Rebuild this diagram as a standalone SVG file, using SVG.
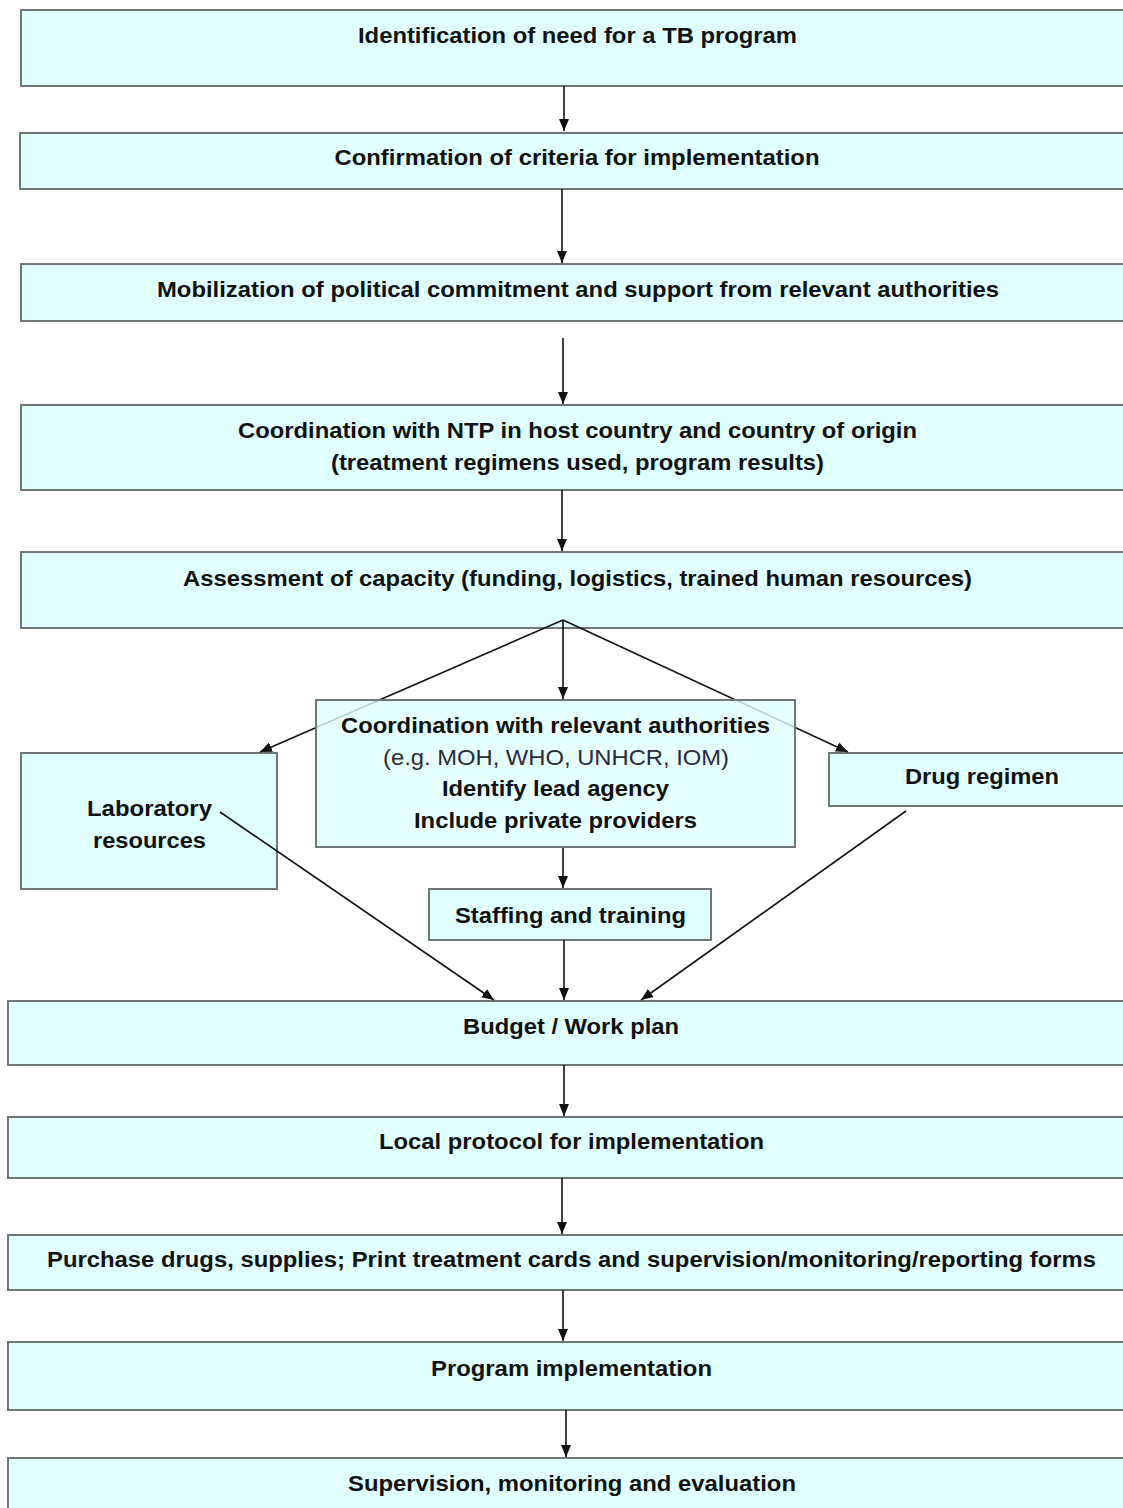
<svg xmlns="http://www.w3.org/2000/svg" width="1123" height="1508" viewBox="0 0 1123 1508">
<style>
.box{fill:#e0ffff;stroke:#6f7676;stroke-width:2}
.t{font-family:"Liberation Sans",Arial,sans-serif;font-size:22px;font-weight:bold;fill:#111;text-anchor:middle}
.r{font-weight:normal;fill:#2a2a3a}
.c{stroke:#111;stroke-width:1.6;fill:none;marker-end:url(#ah)}
</style>
<defs>
<marker id="ah" viewBox="0 0 12 12" refX="12" refY="6" markerWidth="12" markerHeight="12" markerUnits="userSpaceOnUse" orient="auto">
<path d="M0,1 L12,6 L0,11 Z" fill="#111"/>
</marker>
</defs>
<rect width="1123" height="1508" fill="#fff"/>
<g id="n1"><rect class="box" x="21" y="10" width="1110" height="76"/><text class="t" x="577.5" y="43" textLength="439" lengthAdjust="spacingAndGlyphs">Identification of need for a TB program</text></g>
<g id="n2"><rect class="box" x="20" y="133" width="1110" height="56"/><text class="t" x="577" y="165" textLength="485" lengthAdjust="spacingAndGlyphs">Confirmation of criteria for implementation</text></g>
<g id="n3"><rect class="box" x="21" y="264" width="1110" height="57"/><text class="t" x="578" y="297" textLength="842" lengthAdjust="spacingAndGlyphs">Mobilization of political commitment and support from relevant authorities</text></g>
<g id="n4"><rect class="box" x="21" y="405" width="1110" height="85"/><text class="t" x="577.5" y="438" textLength="679" lengthAdjust="spacingAndGlyphs">Coordination with NTP in host country and country of origin</text><text class="t" x="577.5" y="470" textLength="493" lengthAdjust="spacingAndGlyphs">(treatment regimens used, program results)</text></g>
<g id="n5"><rect class="box" x="21" y="552" width="1110" height="76"/><text class="t" x="577.5" y="586" textLength="789" lengthAdjust="spacingAndGlyphs">Assessment of capacity (funding, logistics, trained human resources)</text></g>
<g id="lab"><rect class="box" x="21" y="753" width="256" height="136"/><text class="t" x="149.5" y="816" textLength="125" lengthAdjust="spacingAndGlyphs">Laboratory</text><text class="t" x="149.5" y="848" textLength="113" lengthAdjust="spacingAndGlyphs">resources</text></g>
<g id="drug"><rect class="box" x="829" y="753" width="300" height="53"/><text class="t" x="982" y="784" textLength="154" lengthAdjust="spacingAndGlyphs">Drug regimen</text></g>
<g id="staff"><rect class="box" x="429" y="889" width="282" height="51"/><text class="t" x="570.5" y="923" textLength="231" lengthAdjust="spacingAndGlyphs">Staffing and training</text></g>
<g id="budget"><rect class="box" x="8" y="1001" width="1122" height="64"/><text class="t" x="571" y="1034" textLength="216" lengthAdjust="spacingAndGlyphs">Budget / Work plan</text></g>
<g id="local"><rect class="box" x="8" y="1117" width="1122" height="61"/><text class="t" x="571.5" y="1149" textLength="385" lengthAdjust="spacingAndGlyphs">Local protocol for implementation</text></g>
<g id="purchase"><rect class="box" x="8" y="1235" width="1122" height="55"/><text class="t" x="571.5" y="1267" textLength="1049" lengthAdjust="spacingAndGlyphs">Purchase drugs, supplies; Print treatment cards and supervision/monitoring/reporting forms</text></g>
<g id="program"><rect class="box" x="8" y="1342" width="1122" height="68"/><text class="t" x="571.5" y="1376" textLength="281" lengthAdjust="spacingAndGlyphs">Program implementation</text></g>
<g id="supervision"><rect class="box" x="8" y="1458" width="1122" height="60"/><text class="t" x="572" y="1491" textLength="448" lengthAdjust="spacingAndGlyphs">Supervision, monitoring and evaluation</text></g>
<g id="connectors">
<line class="c" x1="564" y1="86" x2="564" y2="131"/>
<line class="c" x1="562" y1="189" x2="562" y2="263"/>
<line class="c" x1="563" y1="338" x2="563" y2="404"/>
<line class="c" x1="562" y1="490" x2="562" y2="551"/>
<line class="c" x1="563" y1="620" x2="260" y2="752"/>
<line class="c" x1="563" y1="620" x2="563" y2="699"/>
<line class="c" x1="563" y1="620" x2="848" y2="752"/>
<line class="c" x1="563" y1="847" x2="563" y2="888"/>
<line class="c" x1="564" y1="940" x2="564" y2="1000"/>
<line class="c" x1="220" y1="812" x2="494" y2="1000"/>
<line class="c" x1="906" y1="811" x2="641" y2="1000"/>
<line class="c" x1="564" y1="1065" x2="564" y2="1116"/>
<line class="c" x1="562" y1="1178" x2="562" y2="1234"/>
<line class="c" x1="563" y1="1290" x2="563" y2="1341"/>
<line class="c" x1="566" y1="1410" x2="566" y2="1457"/>
</g>
<g id="coord"><rect class="box" x="316" y="700" width="479" height="147" fill-opacity="0.8"/><text class="t" x="555.5" y="733" textLength="429" lengthAdjust="spacingAndGlyphs">Coordination with relevant authorities</text><text class="t r" x="556" y="765" textLength="346" lengthAdjust="spacingAndGlyphs">(e.g. MOH, WHO, UNHCR, IOM)</text><text class="t" x="555.5" y="796" textLength="227" lengthAdjust="spacingAndGlyphs">Identify lead agency</text><text class="t" x="555.5" y="828" textLength="283" lengthAdjust="spacingAndGlyphs">Include private providers</text></g>
</svg>
